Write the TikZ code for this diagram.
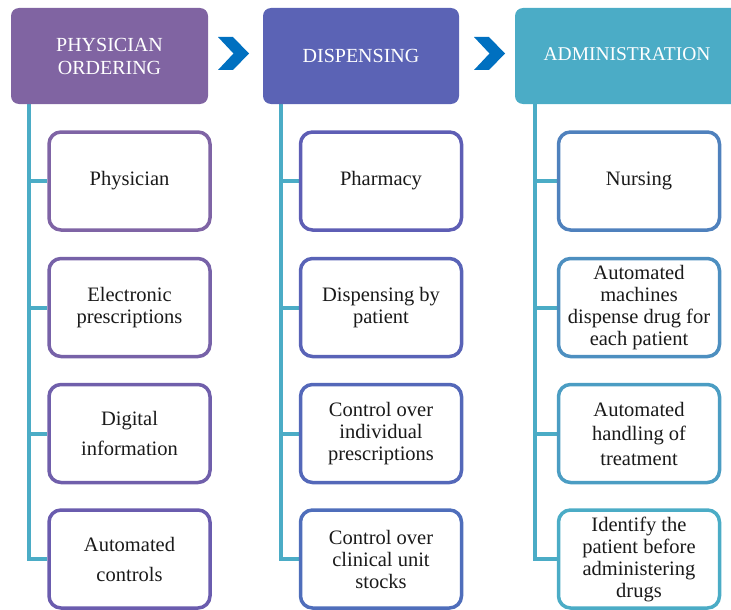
\documentclass[tikz,border=0pt]{standalone}
\usepackage{fontspec}
\setmainfont{Liberation Serif}
\definecolor{hdrA}{HTML}{8064A2}
\definecolor{hdrB}{HTML}{5B63B5}
\definecolor{hdrC}{HTML}{4BACC6}
\definecolor{link}{HTML}{4BACC6}
\definecolor{chev}{HTML}{0070C0}
\definecolor{txt}{HTML}{1A1A1A}
% box outlines shade down each column
\definecolor{a1}{HTML}{7F64A5}\definecolor{a2}{HTML}{7762A8}
\definecolor{a3}{HTML}{705FAB}\definecolor{a4}{HTML}{6A5CAE}
\definecolor{b1}{HTML}{5E5EB5}\definecolor{b2}{HTML}{5963B7}
\definecolor{b3}{HTML}{5468B9}\definecolor{b4}{HTML}{4F6EBB}
\definecolor{c1}{HTML}{4F81BD}\definecolor{c2}{HTML}{4D8FC0}
\definecolor{c3}{HTML}{4B9DC3}\definecolor{c4}{HTML}{4BACC6}
\pgfdeclarelayer{background}
\pgfsetlayers{background,main}
\tikzset{
  header/.style={rectangle, rounded corners=8pt, minimum height=96pt,
    text=white, align=center, font=\fontsize{20}{23}\selectfont, inner sep=0pt},
  itembox/.style={rectangle, rounded corners=12pt, line width=3.5pt, fill=white,
    minimum width=161pt, minimum height=98pt, align=center, text=txt,
    font=\fontsize{20.5}{22}\selectfont, inner sep=0pt},
  wide/.style={font=\fontsize{20.5}{30}\selectfont},
  mid/.style={font=\fontsize{20.5}{24.5}\selectfont},
  conn/.style={draw=link, line width=4pt},
  chevron/.style={fill=chev, draw=none}
}
\begin{document}
\begin{tikzpicture}[x=1pt, y=-1pt]
\useasboundingbox (0,0) rectangle (731,610);
\begin{scope}
\clip (0,0) rectangle (731,610);

% column headers
\node[header, fill=hdrA, minimum width=197pt] (h1) at (109.5,56) {PHYSICIAN\\ORDERING};
\node[header, fill=hdrB, minimum width=196pt] (h2) at (361,56) {DISPENSING};
\node[header, fill=hdrC, minimum width=226pt] (h3) at (628,56) {};
\node[text=white, font=\fontsize{19.5}{23}\selectfont] (h3t) at (627,54) {ADMINISTRATION};

% chevrons between headers
\fill[chevron] (218,37) -- (233,37) -- (249,53.5) -- (233,70) -- (218,70) -- (233.5,53.5) -- cycle;
\fill[chevron] (474,37) -- (489,37) -- (505,53.5) -- (489,70) -- (474,70) -- (489.5,53.5) -- cycle;

% tops of the spines, just under each header
\coordinate (s1) at (28.5,104);
\coordinate (s2) at (280.5,104);
\coordinate (s3) at (535,104);

% item boxes
\node[itembox, draw=a1] (a1n) at (129.5,181) {Physician};
\node[itembox, draw=a2] (a2n) at (129.5,307.5) {Electronic\\prescriptions};
\node[itembox, draw=a3, wide] (a3n) at (129.5,433.5) {Digital\\information};
\node[itembox, draw=a4, wide] (a4n) at (129.5,559) {Automated\\controls};

\node[itembox, draw=b1] (b1n) at (381,181) {Pharmacy};
\node[itembox, draw=b2] (b2n) at (381,307.5) {Dispensing by\\patient};
\node[itembox, draw=b3] (b3n) at (381,433.5) {Control over\\individual\\prescriptions};
\node[itembox, draw=b4] (b4n) at (381,559) {Control over\\clinical unit\\stocks};

\node[itembox, draw=c1] (c1n) at (639,181) {Nursing};
\node[itembox, draw=c2] (c2n) at (639,307.5) {Automated\\machines\\dispense drug for\\each patient};
\node[itembox, draw=c3, mid] (c3n) at (639,433.5) {Automated\\handling of\\treatment};
\node[itembox, draw=c4] (c4n) at (639,559) {Identify the\\patient before\\administering\\drugs};

% spines and stubs, behind the boxes
\begin{pgfonlayer}{background}
  \foreach \s/\c in {s1/a, s2/b, s3/c} {
    \draw[conn] (\s) |- (\c4n.west);
    \foreach \i in {1,2,3}
      \draw[conn] (\s |- \c\i n.west) -- (\c\i n.west);
  }
\end{pgfonlayer}
\end{scope}
\end{tikzpicture}
\end{document}
